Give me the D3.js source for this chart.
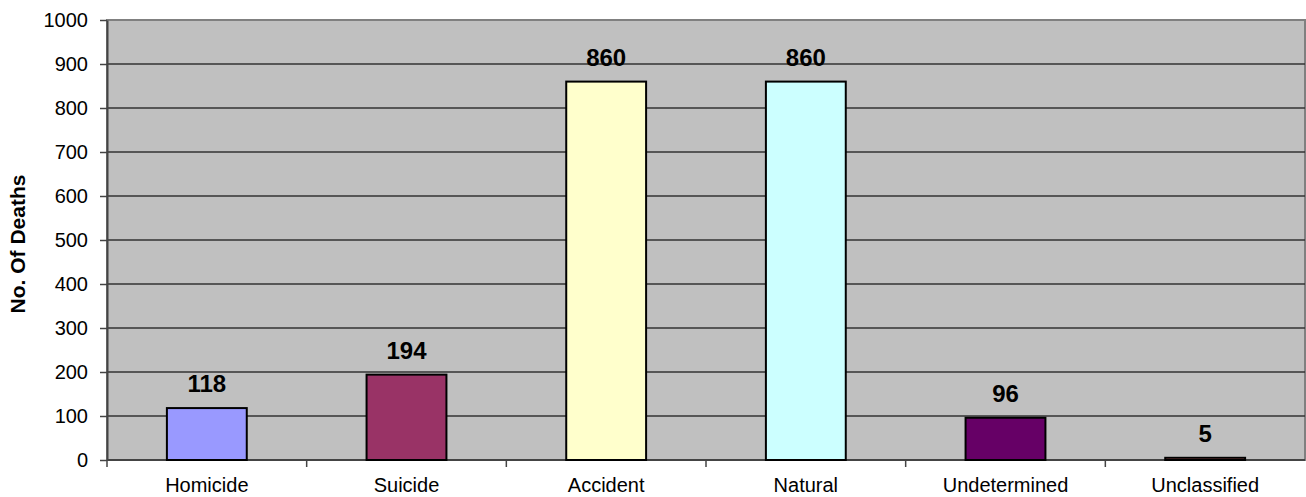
<!DOCTYPE html>
<html>
<head>
<meta charset="utf-8">
<script src="https://cdn.jsdelivr.net/npm/d3@7"></script>
<style>
  body { margin: 0; background: #fff; }
  svg { display: block; font-family: "Liberation Sans", Arial, sans-serif; }
</style>
</head>
<body>
<script>
var categories = ["Homicide", "Suicide", "Accident", "Natural", "Undetermined", "Unclassified"];
var deaths = [118, 194, 860, 860, 96, 5];
var barColors = ["#9999ff", "#993366", "#ffffcc", "#ccffff", "#660066", "#ff8080"];
var yTicks = [0, 100, 200, 300, 400, 500, 600, 700, 800, 900, 1000];

var w = 1306, h = 497;
var margin = {top: 20, right: 1, bottom: 37, left: 107};

var svg = d3.select("body").append("svg")
  .attr("width", w)
  .attr("height", h);

var x = d3.scaleBand()
  .domain(categories)
  .range([margin.left, w - margin.right])
  .paddingInner(0.6)
  .paddingOuter(0.3);

var y = d3.scaleLinear()
  .domain([0, 1000])
  .range([h - margin.bottom, margin.top]);

// plot background
svg.append("rect")
  .attr("x", margin.left)
  .attr("y", margin.top)
  .attr("width", w - margin.right - margin.left)
  .attr("height", y(0) - margin.top)
  .attr("fill", "#c0c0c0")
  .attr("stroke", "#808080")
  .attr("stroke-width", 2);

// gridlines
svg.selectAll("line.grid")
  .data(yTicks.slice(1, -1))
  .enter()
  .append("line")
  .attr("class", "grid")
  .attr("x1", margin.left)
  .attr("x2", w - margin.right)
  .attr("y1", function(d) { return y(d); })
  .attr("y2", function(d) { return y(d); })
  .attr("stroke", "#333")
  .attr("stroke-width", 1.5);

// y axis
var yAxis = svg.append("g")
  .attr("transform", "translate(" + margin.left + ",0)")
  .call(d3.axisLeft(y).tickValues(yTicks).tickFormat(d3.format("d"))
    .tickSize(7).tickPadding(12).tickSizeOuter(0));
yAxis.select(".domain").attr("stroke", "#444").attr("stroke-width", 2);
yAxis.selectAll(".tick line").attr("stroke", "#444").attr("stroke-width", 1.5);
yAxis.selectAll("text")
  .attr("font-size", "20px")
  .attr("font-family", "Liberation Sans, Arial, sans-serif")
  .attr("fill", "#000");

// x axis baseline + ticks at category boundaries
var step = x.step();
var bounds = d3.range(categories.length + 1).map(function(i) { return margin.left + i * step; });
svg.append("line")
  .attr("x1", margin.left).attr("x2", w - margin.right)
  .attr("y1", y(0)).attr("y2", y(0))
  .attr("stroke", "#444").attr("stroke-width", 2);
svg.selectAll("line.xtick")
  .data(bounds.slice(0, -1))
  .enter()
  .append("line")
  .attr("class", "xtick")
  .attr("x1", function(d) { return d; })
  .attr("x2", function(d) { return d; })
  .attr("y1", y(0))
  .attr("y2", y(0) + 7)
  .attr("stroke", "#444")
  .attr("stroke-width", 1.5);

svg.selectAll("text.cat")
  .data(categories)
  .enter()
  .append("text")
  .attr("class", "cat")
  .attr("x", function(d) { return x(d) + x.bandwidth() / 2; })
  .attr("y", 492)
  .attr("text-anchor", "middle")
  .attr("font-size", "20px")
  .text(function(d) { return d; });

// bars
svg.selectAll("rect.bar")
  .data(deaths)
  .enter()
  .append("rect")
  .attr("class", "bar")
  .attr("x", function(d, i) { return x(categories[i]); })
  .attr("y", function(d) { return y(d); })
  .attr("width", x.bandwidth())
  .attr("height", function(d) { return y(0) - y(d); })
  .attr("fill", function(d, i) { return barColors[i]; })
  .attr("stroke", "#000")
  .attr("stroke-width", 2);

// value labels
svg.selectAll("text.val")
  .data(deaths)
  .enter()
  .append("text")
  .attr("class", "val")
  .attr("x", function(d, i) { return x(categories[i]) + x.bandwidth() / 2; })
  .attr("y", function(d) { return y(d) - 16; })
  .attr("text-anchor", "middle")
  .attr("font-size", "24px")
  .attr("font-weight", "bold")
  .text(function(d) { return d; });

// y title
svg.append("text")
  .attr("transform", "translate(25,244) rotate(-90)")
  .attr("text-anchor", "middle")
  .attr("font-size", "21px")
  .attr("font-weight", "bold")
  .text("No. Of Deaths");
</script>
</body>
</html>
